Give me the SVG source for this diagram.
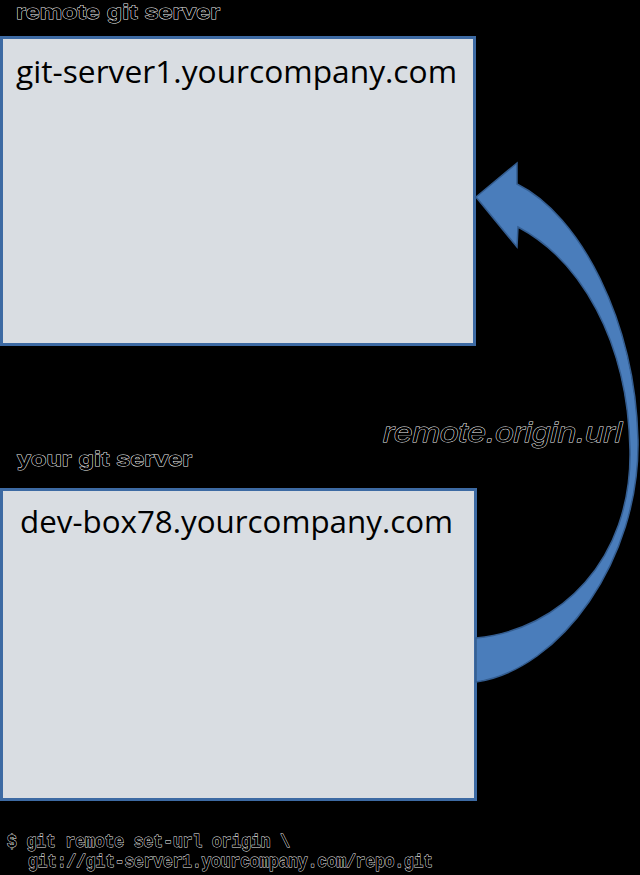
<svg xmlns="http://www.w3.org/2000/svg" width="640" height="875" viewBox="0 0 640 875">
<style>
.box{fill:#d9dde2;stroke:#3d6aa3;stroke-width:3}
.lbl{font-family:"Liberation Sans",Arial,sans-serif;font-weight:bold;font-size:21px;fill:#000;stroke:#f0f0f0;stroke-width:0.9;paint-order:stroke}
.host{font-family:"Open Sans","Liberation Sans",Arial,sans-serif;font-size:31px;fill:#000}
.url{font-family:"Liberation Sans",Arial,sans-serif;font-style:italic;font-size:28px;fill:#000;stroke:#f0f0f0;stroke-width:0.9;paint-order:stroke}
.cmd{font-family:"Liberation Mono","Courier New",monospace;font-weight:bold;font-size:18px;fill:#000;stroke:#f0f0f0;stroke-width:0.9;paint-order:stroke}
</style>
<rect x="0" y="0" width="640" height="875" fill="#000"/>
<g id="remote-server">
<text class="lbl" x="16" y="19" textLength="204" lengthAdjust="spacingAndGlyphs">remote git server</text>
<rect class="box" x="1.5" y="37.5" width="473" height="307"/>
<text class="host" x="16" y="83" textLength="441" lengthAdjust="spacingAndGlyphs">git-server1.yourcompany.com</text>
</g>
<g id="your-server">
<text class="lbl" x="17" y="466" textLength="175" lengthAdjust="spacingAndGlyphs">your git server</text>
<rect class="box" x="1.5" y="489.5" width="474" height="310"/>
<text class="host" x="20" y="533" textLength="433" lengthAdjust="spacingAndGlyphs">dev-box78.yourcompany.com</text>
</g>
<g id="connectors">
<path d="M476,197 L517,163 L517,184 C580,215 635,320 638,440 C640,560 560,670 476,682 L476,638 C560,630 632,560 630,450 C628,340 580,260 518,227 L517,247 Z" fill="#4a7dbb" stroke="#345d90" stroke-width="1.5"/>
<text class="url" x="383" y="442" textLength="239" lengthAdjust="spacingAndGlyphs">remote.origin.url</text>
</g>
<g id="command">
<text class="cmd" x="7" y="847" textLength="283" lengthAdjust="spacingAndGlyphs">$ git remote set-url origin \</text>
<text class="cmd" x="28" y="867" textLength="405" lengthAdjust="spacingAndGlyphs">git://git-server1.yourcompany.com/repo.git</text>
</g>
</svg>
